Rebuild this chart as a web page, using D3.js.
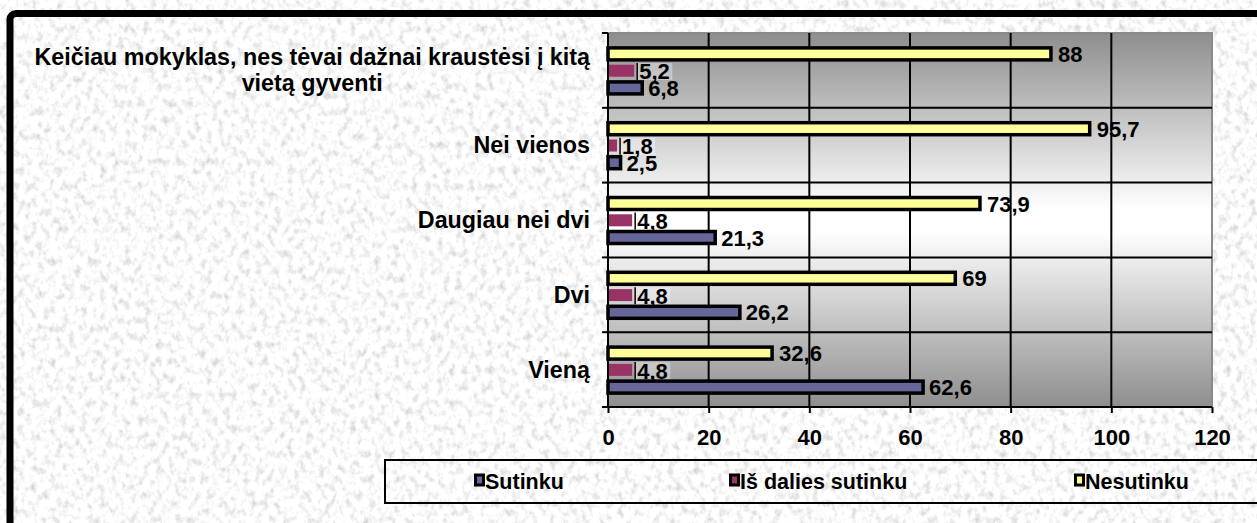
<!DOCTYPE html>
<html><head><meta charset="utf-8">
<script src="https://cdn.jsdelivr.net/npm/d3@7"></script>
<style>html,body{margin:0;padding:0;background:#fff;overflow:hidden}svg{display:block}</style>
</head><body>
<svg id="chart" width="1257" height="523"></svg>
<script>
const categories = ["Keičiau mokyklas, nes tėvai dažnai kraustėsi į kitą vietą gyventi", "Nei vienos", "Daugiau nei dvi", "Dvi", "Vieną"];
const categoryLines = [["Keičiau mokyklas, nes tėvai dažnai kraustėsi į kitą", "vietą gyventi"], ["Nei vienos"], ["Daugiau nei dvi"], ["Dvi"], ["Vieną"]];
const seriesNames = ["Sutinku", "Iš dalies sutinku", "Nesutinku"];
const sutinku = [6.8, 2.5, 21.3, 26.2, 62.6];
const isDalies = [5.2, 1.8, 4.8, 4.8, 4.8];
const nesutinku = [88, 95.7, 73.9, 69, 32.6];
const xTicks = [0, 20, 40, 60, 80, 100, 120];
const colors = {"Sutinku": "#666699", "Iš dalies sutinku": "#993366", "Nesutinku": "#FFFF99"};

const svg = d3.select("#chart");
const defs = svg.append("defs");

// paper texture
const f = defs.append("filter").attr("id","paper").attr("x",0).attr("y",0).attr("width","100%").attr("height","100%");
f.append("feTurbulence").attr("type","fractalNoise").attr("baseFrequency","0.16 0.12").attr("numOctaves",4).attr("seed",7).attr("result","n");
f.append("feColorMatrix").attr("type","matrix")
 .attr("values","0.8 0 0 0 0.57  0.8 0 0 0 0.57  0.8 0 0 0 0.57  0 0 0 0 1");

const g = defs.append("linearGradient").attr("id","plotgrad").attr("gradientUnits","userSpaceOnUse")
  .attr("x1",0).attr("x2",0).attr("y1",33).attr("y2",407);
g.append("stop").attr("offset","0").attr("stop-color","#8e8e8e");
g.append("stop").attr("offset","0.47").attr("stop-color","#ffffff");
g.append("stop").attr("offset","0.53").attr("stop-color","#ffffff");
g.append("stop").attr("offset","1").attr("stop-color","#8e8e8e");

svg.append("rect").attr("width",1257).attr("height",523).attr("fill","#ebebeb").attr("filter","url(#paper)");

// frame
svg.append("rect").attr("x",10).attr("y",13.5).attr("width",1270).attr("height",540).attr("rx",6)
  .attr("fill","none").attr("stroke","#000").attr("stroke-width",7);

const x = d3.scaleLinear().domain([0,120]).range([608,1212]);
const y = d3.scaleBand().domain(categories).range([33,407]).padding(0);
const inner = d3.scaleBand().domain(["Nesutinku","Iš dalies sutinku","Sutinku"]).range([0,y.bandwidth()]).paddingOuter(0.7).paddingInner(0);

const font = "'Liberation Sans', Arial, sans-serif";

function stext(parent, tx, ty, str, size, anchor) {
  return parent.append("text")
    .attr("x", tx).attr("y", ty)
    .attr("font-family", font).attr("font-weight", "bold").attr("font-size", size)
    .attr("text-anchor", anchor || "start").attr("fill", "#000").text(str);
}

// plot area
svg.append("rect").attr("x",x(0)).attr("y",33).attr("width",x(120)-x(0)).attr("height",374)
  .attr("fill","url(#plotgrad)").attr("stroke","#8a8a8a").attr("stroke-width",2);

// gridlines
svg.append("g").selectAll("line").data(xTicks.slice(1,-1)).join("line")
  .attr("x1",d=>x(d)).attr("x2",d=>x(d)).attr("y1",33).attr("y2",407)
  .attr("stroke","#000").attr("stroke-width",2);
svg.append("g").selectAll("line").data(categories.slice(1)).join("line")
  .attr("x1",x(0)).attr("x2",x(120)).attr("y1",d=>y(d)).attr("y2",d=>y(d))
  .attr("stroke","#000").attr("stroke-width",2);

const rows = categories.map((c,i)=>({c, s:sutinku[i], d:isDalies[i], n:nesutinku[i]}));
const fmt = v => String(v).replace(".", ",");
const LS = 22;

const barsG = svg.append("g");
// yellow
barsG.selectAll(".ny").data(rows).join("rect")
  .attr("x",x(0)).attr("y",d=>y(d.c)+inner("Nesutinku")+3).attr("height",12)
  .attr("width",d=>x(d.n)-x(0)).attr("fill",colors["Nesutinku"]).attr("stroke","#000").attr("stroke-width",3.5);
// red
barsG.selectAll(".rd").data(rows).join("rect")
  .attr("x",x(0)).attr("y",d=>y(d.c)+inner("Iš dalies sutinku")+2.8).attr("height",12)
  .attr("width",d=>x(d.d)-x(0)).attr("fill",colors["Iš dalies sutinku"]);
// red label boxes + labels (partly covered by the blue bars, as in the original)
rows.forEach(d=>{
  const top = y(d.c)+inner("Iš dalies sutinku");
  const t = stext(barsG, x(d.d)+5, top+17.5, fmt(d.d), LS, "start");
  const w = t.node().getComputedTextLength();
  barsG.insert("rect", () => t.node()).attr("x",x(d.d)+2.5).attr("y",top+1).attr("width",w+5).attr("height",17)
    .attr("fill","#fff").attr("fill-opacity",0.35);
  barsG.insert("line", () => t.node()).attr("x1",x(d.d)+3).attr("x2",x(d.d)+3).attr("y1",top+1).attr("y2",top+18)
    .attr("stroke","#000").attr("stroke-width",1.5);
});
// blue
barsG.selectAll(".bl").data(rows).join("rect")
  .attr("x",x(0)).attr("y",d=>y(d.c)+inner("Sutinku")+3).attr("height",12)
  .attr("width",d=>x(d.s)-x(0)).attr("fill",colors["Sutinku"]).attr("stroke","#000").attr("stroke-width",3.5);
// yellow & blue labels
rows.forEach(d=>{
  stext(barsG, x(d.n)+7, y(d.c)+inner("Nesutinku")+17, fmt(d.n), LS, "start");
  stext(barsG, x(d.s)+6, y(d.c)+inner("Sutinku")+17, fmt(d.s), LS, "start");
});

// axes
const xAxis = svg.append("g").attr("transform","translate(0,407)")
  .call(d3.axisBottom(x).tickValues(xTicks).tickSize(6).tickPadding(16));
xAxis.select(".domain").attr("stroke","#000").attr("stroke-width",2).attr("d",`M${x(0)},0H${x(120)}`);
xAxis.selectAll(".tick line").attr("stroke","#000").attr("stroke-width",2);
xAxis.selectAll("text").attr("font-family",font).attr("font-weight","bold").attr("font-size",22).attr("fill","#000");

svg.append("line").attr("x1",x(0)).attr("x2",x(0)).attr("y1",33).attr("y2",407).attr("stroke","#000").attr("stroke-width",2);
svg.append("g").selectAll("line").data(d3.range(6)).join("line")
  .attr("x1",x(0)-6).attr("x2",x(0)).attr("y1",i=>33+i*y.bandwidth()).attr("y2",i=>33+i*y.bandwidth())
  .attr("stroke","#000").attr("stroke-width",2);

// category labels
const CS = 23.3;
categories.forEach((c,i)=>{
  const lines = categoryLines[i];
  const cy = y(c) + y.bandwidth()/2;
  if (lines.length === 1) {
    stext(svg, 590, cy+8, lines[0], CS, "end");
  } else {
    const t1 = stext(svg, 590, cy-13+8, lines[0], CS, "end");
    const w = t1.node().getComputedTextLength();
    stext(svg, 590-w/2, cy+13+8, lines[1], CS, "middle");
  }
});

// legend
svg.append("rect").attr("x",385).attr("y",460).attr("width",900).attr("height",43)
  .attr("fill","none").attr("stroke","#000").attr("stroke-width",2);
const legendX = [474, 729, 1074];
seriesNames.forEach((s,i)=>{
  svg.append("rect").attr("x",legendX[i]+1.5).attr("y",475).attr("width",8).attr("height",10)
    .attr("fill",colors[s]).attr("stroke","#000").attr("stroke-width",3);
  stext(svg, legendX[i]+11, 489, s, 21.5, "start");
});
</script>
</body></html>
